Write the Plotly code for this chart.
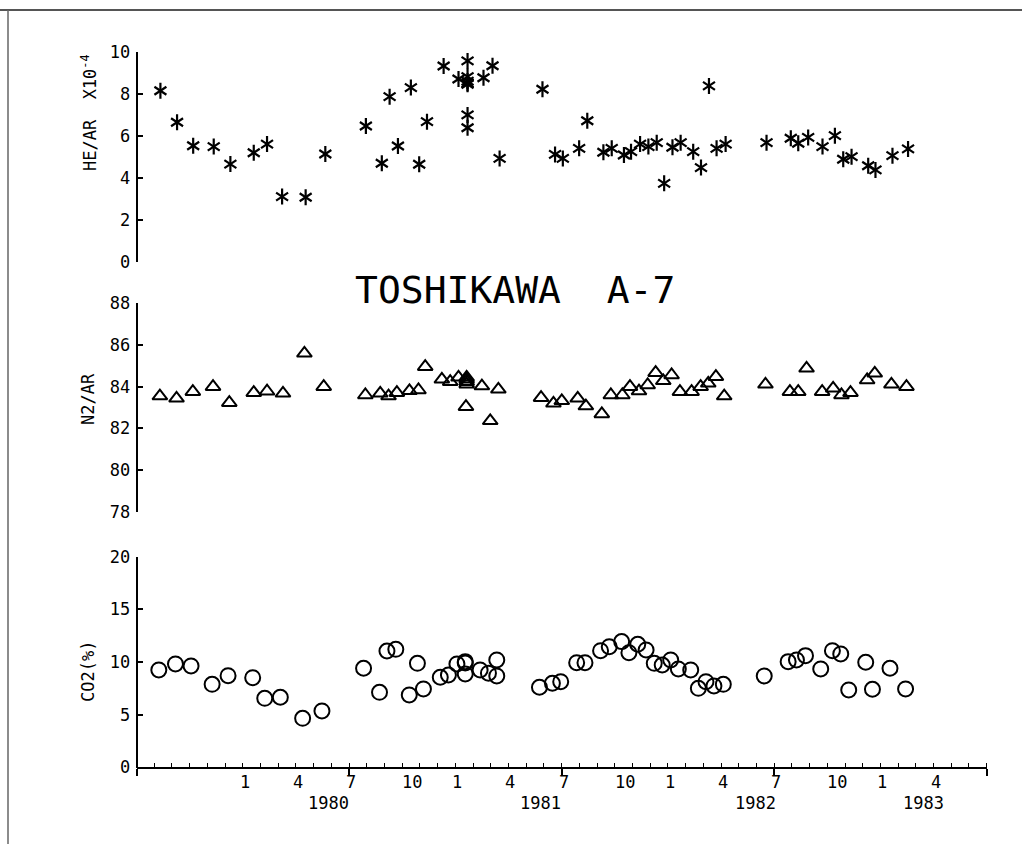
import plotly.graph_objects as go

# x values: months elapsed since 1979-07-01 (fractional)
he_month = [1.35, 2.29, 3.2, 4.36, 5.30, 6.62, 7.37, 8.22, 9.55, 10.66, 12.95, 13.85, 14.29, 14.76,
            15.49, 15.96, 16.40, 17.34, 17.77, 18.18, 18.69, 18.69, 18.69, 18.69, 18.69, 18.69, 18.69,
            19.59, 20.10, 20.50, 22.92, 23.63, 24.07, 24.99, 25.45, 26.36, 26.83, 27.52, 27.92, 28.43,
            28.90, 29.37, 29.79, 30.26, 30.72, 31.43, 31.87, 32.32, 32.75, 33.26, 35.57, 36.94, 37.36,
            37.92, 38.73, 39.43, 39.90, 40.37, 41.31, 41.72, 42.68, 43.56]
he_val = [8.14, 6.64, 5.52, 5.48, 4.65, 5.19, 5.60, 3.10, 3.07, 5.13, 6.46, 4.69, 7.86, 5.51,
          8.29, 4.64, 6.67, 9.32, 10.64, 8.70, 9.56, 8.81, 8.6, 8.5, 8.45, 6.99, 6.38,
          8.76, 9.33, 4.92, 8.21, 5.11, 4.92, 5.40, 6.71, 5.21, 5.40, 5.08, 5.24, 5.60,
          5.48, 5.67, 3.73, 5.45, 5.67, 5.24, 4.48, 8.37, 5.40, 5.60, 5.67, 5.88, 5.64,
          5.92, 5.48, 6.0, 4.88, 5.0, 4.57, 4.37, 5.05, 5.37]

n2_month = [1.32, 2.26, 3.18, 4.32, 5.24, 6.62, 7.37, 8.27, 9.48, 10.57, 12.92, 13.76, 14.23, 14.70,
            15.41, 15.92, 16.30, 17.24, 17.71, 18.18, 18.64, 18.64, 18.64, 18.64, 18.6, 19.5, 19.97,
            20.43, 22.84, 23.54, 24.01, 24.91, 25.37, 26.27, 26.78, 27.43, 27.86, 28.37, 28.86, 29.31,
            29.74, 30.21, 30.68, 31.34, 31.85, 32.28, 32.71, 33.18, 35.51, 36.89, 37.36, 37.83, 38.71,
            39.33, 39.80, 40.31, 41.25, 41.68, 42.62, 43.47]
n2_val = [83.55, 83.44, 83.76, 84.0, 83.23, 83.71, 83.78, 83.68, 85.6, 84.0, 83.6, 83.68, 83.55, 83.71,
          83.8, 83.84, 84.96, 84.35, 84.24, 84.45, 84.45, 84.35, 84.24, 84.12, 83.04, 84.03, 82.36,
          83.87, 83.47, 83.2, 83.32, 83.44, 83.07, 82.69, 83.6, 83.6, 84.0, 83.79, 84.08, 84.67,
          84.28, 84.56, 83.76, 83.76, 84.0, 84.16, 84.48, 83.55, 84.11, 83.76, 83.76, 84.88, 83.76,
          83.92, 83.6, 83.71, 84.32, 84.64, 84.11, 84.0]

co2_month = [1.26, 2.2, 3.08, 4.27, 5.17, 6.56, 7.24, 8.12, 9.38, 10.47, 12.82, 13.72, 14.14, 14.64,
             15.4, 15.86, 16.20, 17.15, 17.61, 18.09, 18.56, 18.56, 18.56, 19.4, 19.87, 20.34, 20.34,
             22.75, 23.48, 23.95, 24.85, 25.32, 26.2, 26.69, 27.39, 27.8, 28.3, 28.77, 29.23, 29.68,
             30.16, 30.59, 31.29, 31.72, 32.15, 32.6, 33.13, 35.44, 36.79, 37.26, 37.77, 38.63, 39.29,
             39.76, 40.21, 41.17, 41.55, 42.54, 43.42]
co2_val = [9.24, 9.81, 9.62, 7.88, 8.7, 8.51, 6.55, 6.65, 4.65, 5.35, 9.40, 7.12, 11.04, 11.2,
           6.87, 9.87, 7.44, 8.55, 8.77, 9.81, 10.03, 9.9, 8.86, 9.24, 8.93, 10.19, 8.67,
           7.6, 7.98, 8.13, 9.93, 9.93, 11.07, 11.45, 11.93, 10.88, 11.68, 11.14, 9.87, 9.71,
           10.19, 9.34, 9.24, 7.5, 8.13, 7.72, 7.88, 8.67, 10.03, 10.19, 10.6, 9.34, 11.07,
           10.76, 7.34, 9.97, 7.41, 9.4, 7.44]

# axis labels
month_tick_pos = [6, 9, 12, 15, 18, 21, 24, 27, 30, 33, 36, 39, 42, 45]
month_tick_text = ["1", "4", "7", "10", "1", "4", "7", "10", "1", "4", "7", "10", "1", "4"]
year_text = ["1980", "1981", "1982", "1983"]
year_right_pos = [12.1, 24.1, 36.2, 45.7]

FONT = "DejaVu Sans Mono"
W, H = 1022, 844
x0px, x1px = 136.5, 986.7
xdom = [x0px / W, x1px / W]

def ydom(top_px, bot_px):
    return [1 - bot_px / H, 1 - top_px / H]

fig = go.Figure()
# six-armed plotter asterisk = upward Y + downward Y
for sym in ["y-up-open", "y-down-open"]:
    fig.add_trace(go.Scatter(x=he_month, y=he_val, mode="markers", xaxis="x", yaxis="y",
                             marker=dict(symbol=sym, size=10, color="black",
                                         line=dict(color="black", width=2.2))))
fig.add_trace(go.Scatter(x=n2_month, y=n2_val, mode="markers", xaxis="x2", yaxis="y2",
                         marker=dict(symbol="triangle-up-open", size=13, color="black",
                                     line=dict(color="black", width=2))))
fig.add_trace(go.Scatter(x=co2_month, y=co2_val, mode="markers", xaxis="x3", yaxis="y3",
                         marker=dict(symbol="circle-open", size=15, color="black",
                                     line=dict(color="black", width=2))))

yax_common = dict(showline=True, linecolor="black", linewidth=1.5, ticks="inside", ticklen=6,
                  tickwidth=1.5, tickcolor="black", showgrid=False, zeroline=False,
                  tickfont=dict(family=FONT, size=17, color="black"), anchor="free",
                  position=xdom[0], ticklabelstandoff=2, automargin=False)
hidden_x = dict(domain=xdom, range=[0, 48], visible=False)

annotations = []
for p, t in zip(month_tick_pos, month_tick_text):
    annotations.append(dict(x=p, y=0, xref="x3", yref="paper", yshift=H - 781.7, text=t,
                            showarrow=False, xanchor="center", yanchor="middle",
                            xshift=(2 if len(t) == 1 else 10),
                            font=dict(family=FONT, size=17, color="black")))
for p, t in zip(year_right_pos, year_text):
    annotations.append(dict(x=p, y=0, xref="x3", yref="paper", yshift=H - 803, text=t,
                            showarrow=False, xanchor="right", yanchor="middle",
                            font=dict(family=FONT, size=17, color="black")))
annotations += [
    dict(x=515 / W, y=1 - 290 / H, xref="paper", yref="paper", text="TOSHIKAWA  A-7",
         showarrow=False, xanchor="center", yanchor="middle",
         font=dict(family=FONT, size=38, color="black")),
    dict(x=89 / W, y=1 - 113 / H, xref="paper", yref="paper", text="HE/AR  X10<sup>-4</sup>",
         textangle=-90, showarrow=False, xanchor="center", yanchor="middle",
         font=dict(family=FONT, size=17, color="black")),
    dict(x=88 / W, y=1 - 399 / H, xref="paper", yref="paper", text="N2/AR",
         textangle=-90, showarrow=False, xanchor="center", yanchor="middle",
         font=dict(family=FONT, size=17, color="black")),
    dict(x=88 / W, y=1 - 672 / H, xref="paper", yref="paper", text="CO2(%)",
         textangle=-90, showarrow=False, xanchor="center", yanchor="middle",
         font=dict(family=FONT, size=17, color="black")),
]

fig.update_layout(
    width=W, height=H, autosize=False, margin=dict(l=0, r=0, t=0, b=0, pad=0, autoexpand=False),
    paper_bgcolor="white", plot_bgcolor="white", showlegend=False,
    xaxis=hidden_x,
    xaxis2=dict(hidden_x),
    xaxis3=dict(domain=xdom, range=[0, 48], showline=True, linecolor="black", linewidth=1.5,
                tickmode="linear", tick0=0, dtick=12, ticks="outside", ticklen=7, tickwidth=1.5,
                tickcolor="black", showticklabels=False, showgrid=False, zeroline=False,
                anchor="y3", automargin=False,
                minor=dict(tick0=0, dtick=1, ticks="inside", ticklen=5, tickwidth=1.3,
                           tickcolor="black", showgrid=False)),
    yaxis=dict(yax_common, domain=ydom(51.7, 261.7), range=[0, 10], dtick=2, tick0=0),
    yaxis2=dict(yax_common, domain=ydom(303.3, 511.7), range=[78, 88], dtick=2, tick0=78),
    yaxis3=dict(yax_common, domain=ydom(556.6, 767.3), range=[0, 20], dtick=5, tick0=0),
    annotations=annotations,
    shapes=[
        dict(type="line", xref="paper", yref="paper", x0=0, x1=1, y0=1 - 10 / H, y1=1 - 10 / H,
             line=dict(color="#555555", width=2)),
        dict(type="line", xref="paper", yref="paper", x0=8 / W, x1=8 / W, y0=0, y1=1 - 10 / H,
             line=dict(color="#666666", width=1.5)),
    ],
)

fig.write_html("out.html", config={"displayModeBar": False},
               post_script="document.body.style.margin='0';document.body.style.overflow='hidden';")
